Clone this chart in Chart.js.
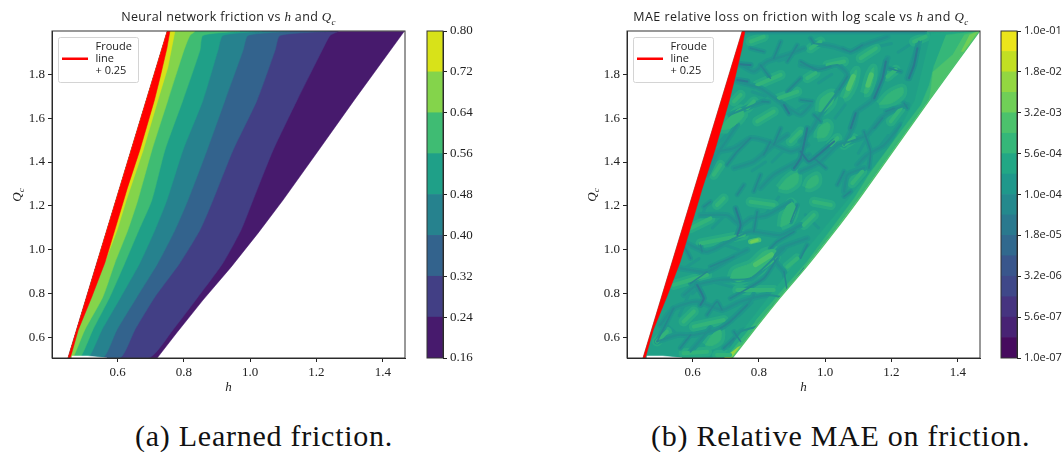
<!DOCTYPE html>
<html>
<head>
<meta charset="utf-8">
<script src="https://cdn.jsdelivr.net/npm/chart.js@4"></script>
<style>
    html, body { margin: 0; padding: 0; background: #fff; width: 1064px; height: 452px; overflow: hidden; }
    canvas { position: absolute; top: 0; }
    .plot-title { position: absolute; top: 8px; text-align: center; font: 12.5px "Open Sans", sans-serif; letter-spacing: 0.35px; color: #222; white-space: nowrap; }
    .plot-title i, .axis-q i { font-family: "Liberation Serif", serif; font-size: 13px; }
    .plot-title sub, .axis-q sub { font-family: "Liberation Serif", serif; font-style: italic; font-size: 9px; line-height: 0; }
    .axis-q { position: absolute; top: 187px; transform: rotate(-90deg); color: #222; font-size: 13px; }
    .caption { position: absolute; top: 419px; font: 30px "Liberation Serif", serif; letter-spacing: 0.75px; color: #111; white-space: nowrap; }
</style>
</head>
<body>
<canvas id="frictionPlot" width="415" height="400" style="left:0;width:415px;height:400px"></canvas>
<canvas id="frictionBar" width="60" height="400" style="left:415px;width:60px;height:400px"></canvas>
<canvas id="maePlot" width="415" height="400" style="left:575px;width:415px;height:400px"></canvas>
<canvas id="maeBar" width="75" height="400" style="left:989px;width:75px;height:400px"></canvas>

<div class="plot-title" style="left:52px;width:353px">Neural network friction vs <i>h</i> and <i>Q</i><sub>c</sub></div>
<div class="plot-title" style="left:626px;width:350px;letter-spacing:0.46px">MAE relative loss on friction with log scale vs <i>h</i> and <i>Q</i><sub>c</sub></div>
<div class="axis-q" style="left:10px"><i>Q</i><sub>c</sub></div>
<div class="axis-q" style="left:585px"><i>Q</i><sub>c</sub></div>
<div class="caption" style="left:135px">(a) Learned friction.</div>
<div class="caption" style="left:651px">(b) Relative MAE on friction.</div>

<script>
// axes
const hTicks = [0.6, 0.8, 1.0, 1.2, 1.4];
const qTicks = [0.6, 0.8, 1.0, 1.2, 1.4, 1.6, 1.8];
const hRange = [0.4024, 1.467];
const qRange = [0.507, 1.997];

// domain edges, shared by both panels
const froudeLeftH = [0.4507, 0.7498];
const froudeLeftQ = [0.507, 1.996];
const froudeRightH = [0.4574, 0.4619, 0.4816, 0.5223, 0.5616, 0.5918, 0.6190, 0.6296, 0.6673, 0.7112, 0.7278, 0.7489, 0.7580];
const froudeRightQ = [0.507, 0.530, 0.635, 0.785, 0.940, 1.090, 1.227, 1.281, 1.454, 1.682, 1.782, 1.918, 1.996];
const outerH = [0.7196, 0.7782, 0.8577, 0.9423, 1.0238, 1.0993, 1.2066, 1.3138, 1.4649];
const outerQ = [0.507, 0.621, 0.771, 0.921, 1.076, 1.227, 1.454, 1.682, 1.996];
const gapH = [0.462, 0.51, 0.568, 0.462];
const gapQ = [0.516, 0.516, 0.507, 0.507];

// panel (a): contour lines of the friction, from low level to high level
const qRows = [0.507, 0.635, 0.785, 0.940, 1.090, 1.227, 1.454, 1.682, 1.909, 1.977, 1.996];
const frictionCurves = [
    [0.6945, 0.7670, 0.8426, 0.9181, 0.9725, 1.0087, 1.0691, 1.1416, 1.2171, 1.2413, 1.2655],
    [0.6069, 0.6522, 0.7126, 0.7881, 0.8486, 0.8879, 0.9483, 1.0208, 1.0752, 1.0903, 1.2413],
    [0.5556, 0.5979, 0.6583, 0.7217, 0.7731, 0.8124, 0.8698, 0.9242, 0.9785, 0.9936, 1.1205],
    [0.5103, 0.5526, 0.6098, 0.6673, 0.7126, 0.7489, 0.7972, 0.8576, 0.9029, 0.9180, 1.0358],
    [0.4861, 0.5254, 0.5767, 0.6220, 0.6643, 0.7036, 0.7428, 0.7972, 0.8486, 0.8576, 0.9694],
    [0.4649, 0.5012, 0.5556, 0.5918, 0.6311, 0.6613, 0.7036, 0.7519, 0.8002, 0.8184, 0.8335]
];
const topCurveH = [0.5407, 0.5646, 0.5988, 0.6266, 0.6773, 0.7217, 0.7519, 0.7731];
const topCurveQ = [0.955, 0.955, 1.090, 1.227, 1.454, 1.682, 1.832, 1.996];

const frictionBands = [0.16, 0.24, 0.32, 0.40, 0.48, 0.56, 0.64, 0.72, 0.80];
const frictionColors = ['#471a6d', '#423f85', '#33638d', '#26828e', '#1fa088', '#3fbc73', '#84d44b', '#d8e219'];

// panel (b): colorbar
const maeBands = [1e-7, 2.37e-7, 5.62e-7, 1.33e-6, 3.16e-6, 7.5e-6, 1.78e-5, 4.22e-5, 1e-4, 2.37e-4, 5.62e-4, 1.33e-3, 3.16e-3, 7.5e-3, 1.78e-2, 4.22e-2, 1e-1];
const maeBarTicks = [1e-7, 5.62e-7, 3.16e-6, 1.78e-5, 1e-4, 5.62e-4, 3.16e-3, 1.78e-2, 1e-1];
const maeBarLabels = ['1.0e-07', '5.6e-07', '3.2e-06', '1.8e-05', '1.0e-04', '5.6e-04', '3.2e-03', '1.8e-02', '1.0e-01'];
const maeColors = ['#460b5e', '#482374', '#463480', '#3f4889', '#39568c', '#31698e', '#2a798e', '#24898d',
    '#1f988b', '#22a785', '#35b779', '#4cc26c', '#70cf57', '#93d741', '#c2df23', '#ece51b'];

// panel (b): regions of the error field, read as h,Q,h,Q...
const edgeHalo = [1.319, 1.987, 1.4649, 1.996, 1.3138, 1.682, 1.2066, 1.454, 1.0993, 1.227, 0.9423, 0.921, 0.8577, 0.771, 0.7782, 0.621, 0.7196, 0.507,
    0.690, 0.507, 0.760, 0.650, 0.900, 0.920, 1.080, 1.250, 1.200, 1.480, 1.270, 1.680];
const edgeBright = [1.364, 1.979, 1.4649, 1.996, 1.3138, 1.682, 1.2066, 1.454, 1.0993, 1.227, 0.9423, 0.921, 0.8577, 0.771, 0.7782, 0.621, 0.7196, 0.507,
    0.700, 0.507, 0.770, 0.636, 0.855, 0.790, 0.945, 0.945, 1.090, 1.240, 1.132, 1.342, 1.228, 1.539, 1.289, 1.660, 1.314, 1.751, 1.329, 1.842];
const edgeHot = [1.419, 1.979, 1.4649, 1.996, 1.3138, 1.682, 1.318, 1.720, 1.325, 1.810, 1.384, 1.888];
const edgeLime = [1.435, 1.979, 1.4649, 1.996, 1.419, 1.900, 1.410, 1.905];
const bottomTip = [0.695, 0.507, 0.7196, 0.507, 0.750, 0.565, 0.735, 0.555];

const blobs = [
    [0.714, 0.870, 0.725, 0.908, 0.775, 0.938, 0.815, 0.991, 0.850, 0.999, 0.853, 0.961, 0.825, 0.923, 0.785, 0.885, 0.740, 0.855],
    [0.981, 1.630, 0.986, 1.683, 1.012, 1.714, 1.027, 1.714, 1.022, 1.668, 0.996, 1.630],
    [0.976, 1.509, 0.981, 1.554, 1.007, 1.580, 1.015, 1.562, 1.002, 1.516],
    [0.941, 1.284, 0.951, 1.319, 0.976, 1.339, 0.978, 1.304, 0.956, 1.281],
    [1.055, 1.691, 1.077, 1.782, 1.095, 1.820, 1.087, 1.751, 1.067, 1.698],
    [1.117, 1.714, 1.132, 1.797, 1.146, 1.830, 1.143, 1.767, 1.127, 1.714],
    [1.163, 1.663, 1.193, 1.713, 1.233, 1.739, 1.233, 1.706, 1.198, 1.668],
    [0.679, 1.547, 0.714, 1.607, 0.745, 1.645, 0.755, 1.612, 0.714, 1.554],
    [0.860, 1.281, 0.886, 1.327, 0.916, 1.349, 0.916, 1.304, 0.886, 1.274],
    [0.866, 1.105, 0.871, 1.158, 0.896, 1.219, 0.911, 1.189, 0.896, 1.128],
    [0.639, 0.567, 0.659, 0.612, 0.684, 0.635, 0.684, 0.589, 0.659, 0.564]
];
const patches = [
    [1.007, 1.842, 1.057, 1.858], [1.107, 1.873, 1.153, 1.918], [1.198, 1.585, 1.228, 1.645],
    [1.017, 1.478, 1.037, 1.509], [1.112, 1.357, 1.082, 1.304], [0.946, 1.782, 0.971, 1.805],
    [1.057, 1.478, 1.087, 1.509], [0.956, 1.918, 0.986, 1.949], [1.188, 1.789, 1.213, 1.820],
    [1.268, 1.949, 1.303, 1.971], [0.795, 1.751, 0.866, 1.797], [0.860, 1.691, 0.916, 1.721],
    [0.725, 1.676, 0.745, 1.706], [0.765, 1.645, 0.785, 1.676], [0.896, 1.494, 0.926, 1.539],
    [0.664, 1.342, 0.684, 1.387], [0.795, 1.585, 0.845, 1.630], [0.775, 1.949, 0.815, 1.971],
    [0.936, 1.113, 0.966, 1.158], [0.543, 0.840, 0.644, 0.885], [0.624, 1.029, 0.755, 1.067],
    [0.735, 0.817, 0.845, 0.817], [0.604, 0.650, 0.694, 0.680], [0.795, 0.673, 0.830, 0.734],
    [0.573, 0.529, 0.644, 0.536], [0.916, 0.961, 0.886, 0.923], [0.674, 0.521, 0.714, 0.521],
    [0.493, 0.582, 0.523, 0.627], [0.573, 0.673, 0.604, 0.719], [0.594, 1.098, 0.654, 1.143],
    [0.674, 1.204, 0.694, 1.234], [0.775, 1.219, 0.845, 1.204], [0.966, 1.219, 1.017, 1.204],
    [0.976, 0.992, 1.006, 1.052]
];
const hotspots = [
    [0.790, 0.932, 0.838, 0.978], [0.775, 1.037, 0.800, 1.045],
    [1.070, 1.735, 1.085, 1.789], [1.129, 1.750, 1.139, 1.797]
];
const hottest = [[0.778, 1.036, 0.795, 1.044]];
const webLines = [
    [0.574, 0.794, 0.614, 0.840, 0.684, 0.863, 0.775, 0.870, 0.845, 0.961, 0.876, 1.007],
    [0.503, 0.658, 0.543, 0.733, 0.614, 0.764, 0.689, 0.726, 0.745, 0.764, 0.825, 0.794, 0.886, 0.779],
    [0.493, 0.582, 0.553, 0.612, 0.604, 0.612, 0.684, 0.643, 0.765, 0.749, 0.785, 0.794],
    [0.573, 1.037, 0.644, 0.991, 0.725, 1.052, 0.775, 1.083, 0.866, 1.067, 0.926, 1.113],
    [0.624, 1.158, 0.704, 1.158, 0.745, 1.113, 0.775, 1.143, 0.825, 1.158, 0.896, 1.219],
    [0.563, 0.916, 0.644, 0.900, 0.725, 0.969, 0.765, 1.000],
    [0.876, 0.900, 0.845, 0.961, 0.866, 1.007, 0.946, 1.052],
    [0.714, 0.567, 0.745, 0.627, 0.805, 0.658, 0.845, 0.749, 0.886, 0.794],
    [0.594, 0.536, 0.654, 0.643],
    [1.057, 1.478, 1.087, 1.569, 1.097, 1.630, 1.143, 1.683, 1.178, 1.827, 1.188, 1.873],
    [1.248, 1.782, 1.278, 1.918, 1.283, 1.949],
    [0.926, 1.357, 0.986, 1.402, 1.037, 1.478, 1.077, 1.494, 1.127, 1.524, 1.168, 1.600, 1.218, 1.645, 1.248, 1.660],
    [0.966, 1.941, 1.027, 1.926, 1.077, 1.903, 1.117, 1.933, 1.188, 1.971],
    [0.926, 1.842, 0.986, 1.827, 1.037, 1.842, 1.067, 1.797, 1.037, 1.721, 0.986, 1.615, 0.956, 1.539, 0.926, 1.494],
    [1.097, 1.387, 1.127, 1.433, 1.178, 1.478, 1.228, 1.569],
    [1.057, 1.266, 1.067, 1.342, 1.117, 1.372],
    [0.674, 1.448, 0.725, 1.463, 0.775, 1.509, 0.825, 1.494, 0.896, 1.448, 0.946, 1.478],
    [0.644, 1.342, 0.674, 1.433, 0.735, 1.569],
    [0.745, 1.845, 0.785, 1.812, 0.825, 1.858, 0.886, 1.888, 0.936, 1.918],
    [0.735, 1.766, 0.805, 1.736, 0.876, 1.660, 0.926, 1.615, 0.956, 1.660],
    [0.714, 1.615, 0.785, 1.660, 0.815, 1.676],
    [0.725, 1.372, 0.785, 1.402, 0.845, 1.478, 0.886, 1.524],
    [0.805, 1.281, 0.845, 1.342, 0.916, 1.402, 0.951, 1.433]
];
const streaks = [
    [1.052, 1.918, 1.077, 1.903, 1.112, 1.933], [0.966, 1.941, 0.956, 1.964],
    [0.926, 1.858, 0.976, 1.820, 1.017, 1.835], [1.117, 1.539, 1.137, 1.448, 1.132, 1.372],
    [1.057, 1.357, 1.037, 1.296], [0.966, 1.615, 0.986, 1.585], [0.926, 1.683, 0.961, 1.676],
    [1.238, 1.668, 1.248, 1.645], [1.183, 1.630, 1.208, 1.645], [1.148, 1.554, 1.173, 1.600],
    [1.067, 1.789, 1.042, 1.729], [1.193, 1.827, 1.228, 1.812], [0.966, 1.418, 1.002, 1.372],
    [1.077, 1.266, 1.057, 1.243], [0.775, 1.918, 0.815, 1.903], [0.866, 1.949, 0.845, 1.873],
    [0.916, 1.933, 0.886, 1.858], [0.810, 1.676, 0.830, 1.673], [0.805, 1.842, 0.835, 1.782],
    [0.926, 1.782, 0.886, 1.721], [0.775, 1.509, 0.735, 1.448, 0.704, 1.387], [0.664, 1.433, 0.639, 1.342],
    [0.835, 1.494, 0.815, 1.433], [0.866, 1.554, 0.845, 1.478], [0.755, 1.296, 0.735, 1.251],
    [0.805, 1.342, 0.785, 1.266], [0.689, 0.726, 0.674, 0.764, 0.644, 0.703],
    [0.714, 0.779, 0.815, 0.870, 0.855, 0.961], [0.573, 1.022, 0.594, 0.961], [0.624, 1.022, 0.629, 0.991],
    [0.654, 0.923, 0.725, 0.969], [0.543, 0.733, 0.513, 0.642, 0.493, 0.582],
    [0.765, 0.749, 0.714, 0.673, 0.684, 0.643], [0.906, 1.083, 0.855, 1.037, 0.835, 1.007],
    [0.876, 0.900, 0.886, 0.809], [0.936, 0.916, 0.876, 0.794], [0.644, 0.900, 0.594, 0.847],
    [0.745, 0.582, 0.725, 0.627], [0.594, 0.612, 0.563, 0.552], [0.654, 1.219, 0.634, 1.196],
    [0.795, 1.173, 0.785, 1.083], [0.946, 1.022, 0.926, 0.961], [0.825, 0.688, 0.795, 0.627],
    [0.694, 0.552, 0.725, 0.597], [0.916, 1.204, 0.896, 1.128], [0.76, 1.992, 1.30, 1.992]
];
const deepStreaks = [
    [1.278, 1.918, 1.268, 1.842, 1.253, 1.782], [1.183, 1.858, 1.173, 1.782, 1.148, 1.691],
    [1.092, 1.622, 1.077, 1.554], [0.926, 1.448, 0.951, 1.402, 0.986, 1.441, 1.027, 1.494],
    [0.745, 1.845, 0.775, 1.842], [0.735, 1.774, 0.765, 1.767], [0.876, 1.660, 0.891, 1.622],
    [0.946, 1.554, 0.926, 1.418, 0.906, 1.372], [0.730, 1.189, 0.745, 1.113, 0.735, 1.067],
    [0.614, 0.840, 0.634, 0.779, 0.624, 0.749]
];
const fineStreaks = [
    [0.62, 0.58, 0.65, 0.68], [0.56, 0.70, 0.59, 0.80], [0.60, 0.80, 0.64, 0.86], [0.67, 0.85, 0.72, 0.83],
    [0.74, 0.70, 0.78, 0.76], [0.84, 0.62, 0.87, 0.70], [0.90, 0.74, 0.94, 0.82], [0.98, 0.88, 1.02, 0.96],
    [1.05, 1.05, 1.09, 1.16], [1.00, 1.08, 1.04, 1.14], [0.94, 1.16, 0.98, 1.10], [0.70, 1.02, 0.74, 1.00],
    [0.66, 1.10, 0.70, 1.16], [0.62, 1.12, 0.64, 1.20], [0.58, 0.92, 0.62, 0.96], [0.52, 0.66, 0.55, 0.62],
    [0.66, 1.46, 0.70, 1.52], [0.72, 1.56, 0.76, 1.60], [0.78, 1.36, 0.82, 1.40], [0.84, 1.40, 0.88, 1.46],
    [0.98, 1.76, 1.02, 1.80], [1.03, 1.60, 1.06, 1.66], [1.10, 1.44, 1.13, 1.52], [1.16, 1.46, 1.19, 1.52],
    [0.90, 1.62, 0.94, 1.66], [0.78, 1.72, 0.82, 1.70], [0.86, 1.86, 0.90, 1.88], [1.14, 1.92, 1.20, 1.94],
    [1.22, 1.90, 1.26, 1.94], [0.82, 1.16, 0.86, 1.24]
];

const froudeLabel = ['Froude', 'line', '+ 0.25'];
const serif = '"Liberation Serif", serif';
const sans = '"Open Sans", sans-serif';

function zipPoints(hs, qs) {
    return hs.map((h, i) => ({x: h, y: qs[i]}));
}

function flatPoints(list) {
    let points = [];
    for (let i = 0; i < list.length; i += 2) {
        points.push({x: list[i], y: list[i + 1]});
    }
    return points;
}

function polygon(points, color, tension) {
    return {label: '', data: points, showLine: true, fill: 'shape', backgroundColor: color, borderColor: color, borderWidth: 0.5, tension: tension || 0, pointRadius: 0, clip: 0};
}

function stroke(list, color, width) {
    return list.map(item => ({label: '', data: flatPoints(item), showLine: true, fill: false, borderColor: color, borderWidth: width, tension: 0.2, borderCapStyle: 'round', borderJoinStyle: 'round', pointRadius: 0, clip: 0}));
}

// filled shape with a wider soft rim round it
function rimmed(list, color, width) {
    return list.map(item => {
        let points = flatPoints(item);
        let layer = polygon(points.concat(points[0]), color, 0.3);
        layer.borderWidth = width;
        layer.borderJoinStyle = 'round';
        return layer;
    });
}

function redBand() {
    let left = zipPoints(froudeLeftH, froudeLeftQ);
    let right = zipPoints(froudeRightH, froudeRightQ).reverse();
    return polygon(left.concat(right), '#ff0000');
}

function domain() {
    let left = zipPoints(froudeLeftH, froudeLeftQ).reverse();
    return left.concat(zipPoints(outerH, outerQ));
}

function outsideMask() {
    let corners = [{x: hRange[1] + 0.01, y: qRange[1] + 0.01}, {x: hRange[1] + 0.01, y: qRange[0] - 0.01}, {x: outerH[0], y: qRange[0] - 0.01}];
    return polygon(zipPoints(outerH, outerQ).concat(corners), '#ffffff');
}

// line sample for the legend, it sits on the middle text row
function legendSample() {
    let sample = document.createElement('canvas');
    sample.width = 28;
    sample.height = 26;
    let ctx = sample.getContext('2d');
    ctx.fillStyle = '#ff0000';
    ctx.fillRect(0, 24, 26, 2);
    return sample;
}

const plotFrame = {
    id: 'plotFrame',
    afterDatasetsDraw(chart) {
        let a = chart.chartArea;
        let ctx = chart.ctx;
        ctx.save();
        ctx.strokeStyle = '#333';
        ctx.lineWidth = 1;
        ctx.strokeRect(a.left, a.top, a.right - a.left, a.bottom - a.top);
        ctx.restore();
    }
};

const legendFrame = {
    id: 'legendFrame',
    afterLayout(chart) {
        // a chartArea legend loses its top in update, put it back
        chart.legend.top = chart.chartArea.top;
        chart.legend.bottom = chart.chartArea.bottom;
    },
    beforeDatasetsDraw(chart) {
        let a = chart.chartArea;
        let ctx = chart.ctx;
        ctx.save();
        ctx.strokeStyle = '#d4d4d4';
        ctx.lineWidth = 1;
        ctx.beginPath();
        ctx.roundRect(a.left + 6.5, a.top + 6.5, 80, 45, 2);
        ctx.stroke();
        ctx.restore();
    }
};

function makePlot(canvasId, layers) {
    return new Chart(document.getElementById(canvasId), {
        type: 'scatter',
        data: {datasets: layers.map((d, i) => Object.assign(d, {order: -i}))},
        options: {
            responsive: false,
            animation: false,
            events: [],
            layout: {padding: {left: 0, top: 31, right: 10, bottom: 5}},
            plugins: {
                tooltip: {enabled: false},
                legend: {
                    position: 'chartArea',
                    align: 'start',
                    labels: {
                        padding: 10,
                        color: '#222',
                        font: {family: sans, size: 11, lineHeight: 1.1},
                        usePointStyle: true,
                        pointStyleWidth: 28,
                        generateLabels: () => [{text: froudeLabel, pointStyle: legendSample(), datasetIndex: layers.length - 1, lineWidth: 0, hidden: false, fontColor: '#222'}]
                    }
                }
            },
            scales: {
                x: {
                    type: 'linear',
                    min: hRange[0],
                    max: hRange[1],
                    afterFit: scale => { scale.height = 37; },
                    afterBuildTicks: scale => { scale.ticks = hTicks.map(v => ({value: v})); },
                    grid: {drawOnChartArea: false, tickLength: 4, color: '#222'},
                    border: {color: '#222'},
                    title: {display: true, text: 'h', color: '#222', padding: {top: 1, bottom: 0}, font: {family: serif, style: 'italic', size: 13}},
                    ticks: {color: '#222', padding: 3, maxRotation: 0, font: {family: serif, size: 13}, callback: v => v.toFixed(1)}
                },
                y: {
                    min: qRange[0],
                    max: qRange[1],
                    afterFit: scale => { scale.width = 52; },
                    afterBuildTicks: scale => { scale.ticks = qTicks.map(v => ({value: v})); },
                    grid: {drawOnChartArea: false, tickLength: 4, color: '#222'},
                    border: {color: '#222'},
                    ticks: {color: '#222', padding: 3, font: {family: serif, size: 13}, callback: v => v.toFixed(1)}
                }
            }
        },
        plugins: [plotFrame, legendFrame]
    });
}

function makeBar(canvasId, bands, colors, ticks, scaleType, labelFor, font, axisWidth) {
    let barDatasets = colors.map((color, i) => ({
        data: [[bands[i], bands[i + 1]]],
        backgroundColor: color,
        borderWidth: 0,
        grouped: false,
        barPercentage: 1,
        categoryPercentage: 1
    }));
    return new Chart(document.getElementById(canvasId), {
        type: 'bar',
        data: {labels: [''], datasets: barDatasets},
        options: {
            responsive: false,
            animation: false,
            events: [],
            layout: {padding: {left: 12, top: 31, right: 0, bottom: 42}},
            plugins: {legend: {display: false}, tooltip: {enabled: false}},
            scales: {
                x: {display: false},
                y: {
                    type: scaleType,
                    position: 'right',
                    min: bands[0],
                    max: bands[bands.length - 1],
                    afterFit: scale => { scale.width = axisWidth; },
                    afterBuildTicks: scale => { scale.ticks = ticks.map(v => ({value: v})); },
                    grid: {drawOnChartArea: false, tickLength: 4, color: '#222'},
                    border: {color: '#222'},
                    ticks: {color: '#222', padding: 3, autoSkip: false, font: font, callback: labelFor}
                }
            }
        },
        plugins: [plotFrame]
    });
}

// panel (a)
let frictionLayers = [polygon(domain(), frictionColors[0])];
frictionCurves.forEach((curve, i) => {
    let points = [{x: froudeLeftH[0], y: froudeLeftQ[0]}].concat(zipPoints(curve, qRows), [{x: froudeLeftH[1], y: froudeLeftQ[1]}]);
    frictionLayers.push(polygon(points, frictionColors[i + 1], 0.2));
});
frictionLayers.push(polygon(zipPoints(topCurveH, topCurveQ).concat({x: froudeLeftH[1], y: froudeLeftQ[1]}), frictionColors[7]));
frictionLayers.push(polygon(zipPoints(gapH, gapQ), '#ffffff'));
frictionLayers.push(redBand());
makePlot('frictionPlot', frictionLayers);
makeBar('frictionBar', frictionBands, frictionColors, frictionBands, 'linear', v => v.toFixed(2), {family: serif, size: 13}, 32);

// panel (b)
let maeLayers = [polygon(domain(), '#20a087')];
maeLayers.push(...stroke(fineStreaks, maeColors[8], 3));
maeLayers.push(...rimmed(blobs, '#27aa83', 8));
maeLayers.push(...stroke(patches, '#27aa83', 10));
maeLayers.push(...stroke(webLines, '#1f988b', 6));
maeLayers.push(...stroke(streaks, '#1f968b', 5));
maeLayers.push(...stroke(deepStreaks, '#1f928c', 6));
maeLayers.push(polygon(flatPoints(edgeHalo), maeColors[9]));
maeLayers.push(polygon(flatPoints(edgeBright), maeColors[10]));
maeLayers.push(polygon(flatPoints(edgeHot), maeColors[11]));
maeLayers.push(polygon(flatPoints(edgeLime), maeColors[12]));
maeLayers.push(polygon(flatPoints(bottomTip), maeColors[13]));
maeLayers.push(...rimmed(blobs, '#32b47a', 1));
maeLayers.push(...stroke(patches, '#32b47a', 4));
maeLayers.push(...stroke(hotspots, maeColors[11], 5));
maeLayers.push(...stroke(hottest, maeColors[12], 3));
maeLayers.push(...stroke(webLines, '#22908c', 2));
maeLayers.push(...stroke(streaks, '#25868d', 1.5));
maeLayers.push(...stroke(deepStreaks, '#2a798e', 2));
maeLayers.push(outsideMask());
maeLayers.push(...stroke([outerH.flatMap((h, i) => [h, outerQ[i]])], maeColors[11], 1.5));
maeLayers.push(polygon(zipPoints(gapH, gapQ), '#ffffff'));
maeLayers.push(redBand());
makePlot('maePlot', maeLayers);
makeBar('maeBar', maeBands, maeColors, maeBarTicks, 'logarithmic', (v, i) => maeBarLabels[i], {family: sans, size: 11}, 47);
</script>
</body>
</html>
